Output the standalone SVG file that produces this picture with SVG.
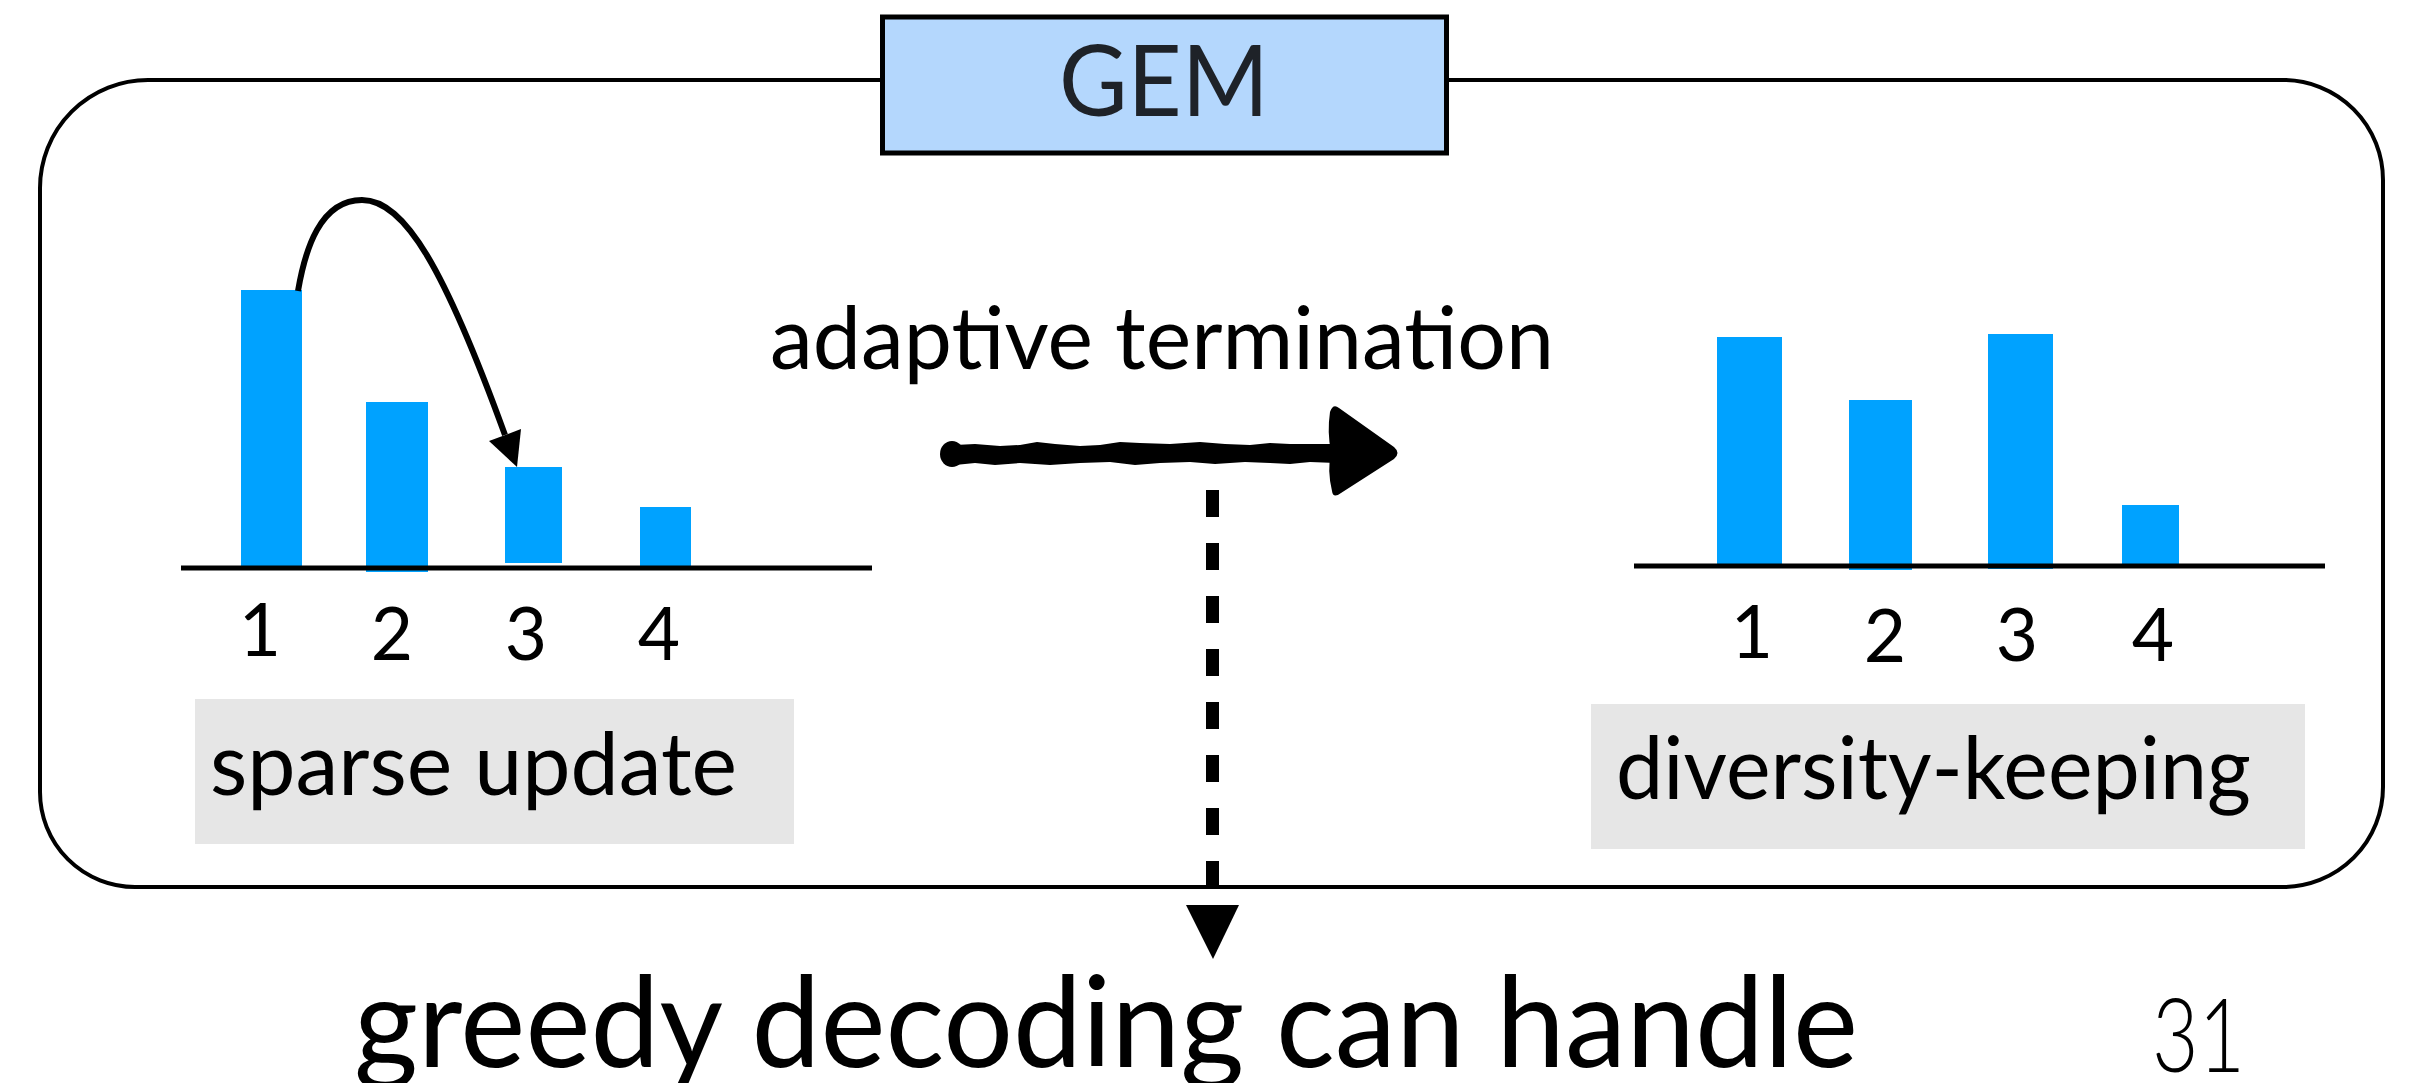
<svg xmlns="http://www.w3.org/2000/svg" width="2413" height="1083" viewBox="0 0 2413 1083">
<style>
.t{font-family:Lato,"Noto Sans","Liberation Sans",sans-serif;fill:#000}
.bar{fill:#00a2ff}
.axis{stroke:#000;stroke-width:5}
.gray{fill:#e6e6e6}
</style>
<rect width="2413" height="1083" fill="#fff"/>
<g id="frame">
<path d="M148,80 H2283 A100,100 0 0 1 2383,180 V787 A100,100 0 0 1 2283,887 H135 A95,95 0 0 1 40,792 V188 A108,108 0 0 1 148,80 Z" fill="none" stroke="#000" stroke-width="4"/>
</g>
<g id="gem-title">
<rect x="882.5" y="17" width="564" height="136" fill="#b4d7fd" stroke="#000" stroke-width="5"/>
<text class="t" x="1059" y="116" font-size="99" textLength="210" lengthAdjust="spacingAndGlyphs" style="fill:#1e2228">GEM</text>
</g>
<g id="left-chart">
<rect class="bar" x="241" y="290" width="61" height="277"/>
<rect class="bar" x="366" y="402" width="62" height="170"/>
<rect class="bar" x="505" y="467" width="57" height="96"/>
<rect class="bar" x="640" y="507" width="51" height="60"/>
<line class="axis" x1="181" y1="568" x2="872" y2="568"/>
<text class="t" font-size="73" text-anchor="middle" x="260" y="656">1</text>
<text class="t" font-size="73" text-anchor="middle" x="392" y="660">2</text>
<text class="t" font-size="73" text-anchor="middle" x="526" y="660">3</text>
<text class="t" font-size="73" text-anchor="middle" x="659" y="660">4</text>
</g>
<g id="sparse-update">
<rect class="gray" x="195" y="699" width="599" height="145"/>
<text class="t" x="210" y="795" font-size="88" textLength="527" lengthAdjust="spacingAndGlyphs">sparse update</text>
</g>
<g id="right-chart">
<rect class="bar" x="1717" y="337" width="65" height="227"/>
<rect class="bar" x="1849" y="400" width="63" height="170"/>
<rect class="bar" x="1988" y="334" width="65" height="235"/>
<rect class="bar" x="2122" y="505" width="57" height="60"/>
<line class="axis" x1="1634" y1="566" x2="2325" y2="566"/>
<text class="t" font-size="73" text-anchor="middle" x="1752" y="658">1</text>
<text class="t" font-size="73" text-anchor="middle" x="1885" y="662">2</text>
<text class="t" font-size="73" text-anchor="middle" x="2017" y="661">3</text>
<text class="t" font-size="73" text-anchor="middle" x="2153" y="661">4</text>
</g>
<g id="diversity-keeping">
<rect class="gray" x="1591" y="704" width="714" height="145"/>
<text class="t" x="1616" y="799" font-size="88" textLength="635" lengthAdjust="spacingAndGlyphs">diversity-keeping</text>
</g>
<g id="adaptive-termination">
<text class="t" x="770" y="369" font-size="88" textLength="784" lengthAdjust="spacingAndGlyphs">adaptive termination</text>
</g>
<g id="connectors">
<path d="M298,291 C305,250 320,200 362,200 C405,200 445,270 505,435" fill="none" stroke="#000" stroke-width="6"/>
<polygon points="517,467 489,441 521,429" fill="#000"/>
<g id="brush-arrow" fill="#000">
<ellipse cx="952" cy="454" rx="12" ry="13"/>
<path d="M955,445 L975,444 L1000,446 L1020,445 L1037,442 L1055,444 L1080,446 L1100,445 L1120,442 L1140,443 L1170,444 L1200,442 L1225,444 L1250,445 L1270,443 L1290,444 L1336,444 L1336,463 L1310,462 L1290,464 L1270,463 L1245,462 L1215,464 L1190,462 L1160,463 L1135,465 L1110,462 L1080,463 L1050,465 L1020,463 L995,465 L975,463 L955,465 Z"/>
<path d="M1330,412 Q1333,403 1339,408 L1394,447 Q1401,453 1394,459 L1341,493 Q1333,499 1332,491 Q1327,470 1331,452 Q1327,432 1330,412 Z"/>
</g>
<line x1="1212.5" y1="490" x2="1212.5" y2="886" stroke="#000" stroke-width="13" stroke-dasharray="27 26"/>
<polygon points="1186,905 1239,905 1213,959" fill="#000"/>
</g>
<g id="bottom-text">
<text class="t" x="354" y="1067" font-size="126" textLength="1504" lengthAdjust="spacingAndGlyphs">greedy decoding can handle</text>
</g>
<g id="page-number">
<text class="t" x="2152" y="1072" font-size="103" font-weight="300" textLength="93" lengthAdjust="spacingAndGlyphs">31</text>
</g>
</svg>
